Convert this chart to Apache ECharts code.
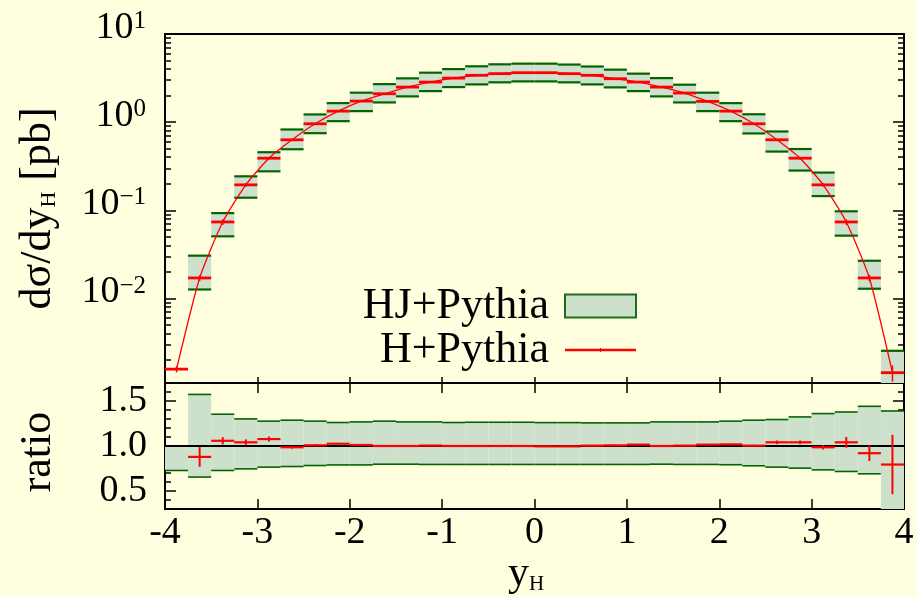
<!DOCTYPE html>
<html>
<head>
<meta charset="utf-8">
<script src="https://cdn.jsdelivr.net/npm/echarts@6/dist/echarts.min.js"></script>
<style>
  html, body { margin: 0; padding: 0; background: #ffffe0; }
  #chart { width: 917px; height: 597px; }
</style>
</head>
<body>
<div id="chart"></div>
<script>
// bin edges in y_H
var binEdges = [-4, -3.75, -3.5, -3.25, -3, -2.75, -2.5, -2.25, -2, -1.75, -1.5, -1.25, -1, -0.75, -0.5, -0.25,
  0, 0.25, 0.5, 0.75, 1, 1.25, 1.5, 1.75, 2, 2.25, 2.5, 2.75, 3, 3.25, 3.5, 3.75, 4];

// H+Pythia, dsigma/dy [pb]
var hPythia = [0.00158, 0.0171, 0.0738, 0.1945, 0.39, 0.631, 0.959, 1.334, 1.733, 2.10, 2.50, 2.85, 3.16, 3.40, 3.55, 3.64,
  3.64, 3.55, 3.40, 3.11, 2.85, 2.50, 2.14, 1.72, 1.334, 0.959, 0.631, 0.39, 0.1945, 0.0738, 0.0171, 0.00144];
var hPythiaErr = [0.00013, 0.0013, 0.0055, 0.009, 0.012, 0.015, 0.018, 0.02, 0.022, 0.022, 0.022, 0.022, 0.022, 0.022, 0.022, 0.022,
  0.022, 0.022, 0.022, 0.022, 0.022, 0.022, 0.022, 0.022, 0.02, 0.018, 0.015, 0.012, 0.009, 0.0055, 0.0014, 0.0003];

// HJ+Pythia uncertainty band
var hjLow = [null, 0.01265, 0.0507, 0.139, 0.277, 0.493, 0.75, 1.026, 1.334, 1.674, 1.96, 2.25, 2.50, 2.68, 2.83, 2.90,
  2.90, 2.83, 2.68, 2.48, 2.25, 1.96, 1.674, 1.334, 1.026, 0.745, 0.464, 0.2825, 0.145, 0.0516, 0.0129, 0.0008];
var hjHigh = [null, 0.0306, 0.093, 0.243, 0.456, 0.826, 1.223, 1.644, 2.16, 2.70, 3.14, 3.64, 4.0, 4.30, 4.53, 4.61,
  4.61, 4.50, 4.28, 3.94, 3.55, 3.16, 2.66, 2.16, 1.644, 1.229, 0.784, 0.496, 0.268, 0.0975, 0.0268, 0.00255];

// ratio panel
var ratioLow = [0.728, 0.655, 0.728, 0.746, 0.765, 0.772, 0.783, 0.79, 0.79, 0.798, 0.798, 0.795, 0.795, 0.795, 0.795, 0.795,
  0.795, 0.795, 0.795, 0.795, 0.795, 0.798, 0.795, 0.795, 0.792, 0.78, 0.765, 0.754, 0.735, 0.717, 0.691, 0.2];
var ratioHigh = [1.0, 1.573, 1.353, 1.301, 1.276, 1.287, 1.276, 1.261, 1.268, 1.276, 1.268, 1.268, 1.261, 1.264, 1.264, 1.264,
  1.26, 1.26, 1.257, 1.257, 1.257, 1.268, 1.268, 1.268, 1.276, 1.287, 1.294, 1.323, 1.36, 1.378, 1.441, 1.389];
var ratioH = [null, 0.879, 1.058, 1.041, 1.077, 0.986, 1.008, 1.025, 1.011, 1.0, 1.0, 1.005, 1.0, 1.0, 1.0, 1.0,
  0.996, 0.996, 1.004, 1.007, 1.015, 1.0, 1.004, 1.015, 1.018, 1.004, 1.041, 1.041, 0.986, 1.041, 0.92, 0.794];
var ratioHErr = [null, 0.11, 0.04, 0.033, 0.028, 0.015, 0.012, 0.01, 0.01, 0.008, 0.008, 0.008, 0.008, 0.008, 0.008, 0.008,
  0.008, 0.008, 0.008, 0.008, 0.008, 0.008, 0.008, 0.008, 0.01, 0.01, 0.02, 0.02, 0.024, 0.06, 0.087, 0.33];

// tick values
var logMajorTicks = [0.01, 0.1, 1, 10];
var logMinorTicks = [0.002, 0.003, 0.004, 0.005, 0.006, 0.007, 0.008, 0.009,
  0.02, 0.03, 0.04, 0.05, 0.06, 0.07, 0.08, 0.09,
  0.2, 0.3, 0.4, 0.5, 0.6, 0.7, 0.8, 0.9,
  2, 3, 4, 5, 6, 7, 8, 9];
var ratioMajorTicks = [0.5, 1.0, 1.5];
var ratioMinorTicks = [0.3, 0.4, 0.5, 0.6, 0.7, 0.8, 0.9, 1.0, 1.1, 1.2, 1.3, 1.4, 1.5, 1.6, 1.7];

var FONT = "'Liberation Serif', 'DejaVu Serif', serif";
var FILL = '#cde0cc';
var DKGREEN = '#006400';
var RED = '#ff0000';

var chart = echarts.init(document.getElementById('chart'));

function rows(a, b) {
  return binEdges.slice(0, -1).map(function (e, i) {
    return [e, binEdges[i + 1], a[i] == null ? NaN : a[i], b[i] == null ? NaN : b[i]];
  });
}

function boxRender(edgeWidth) {
  return function (params, api) {
    var x0 = api.value(0), x1 = api.value(1), lo = api.value(2), hi = api.value(3);
    if (isNaN(lo) || isNaN(hi)) return null;
    var a = api.coord([x0, hi]), b = api.coord([x1, lo]);
    var cs = params.coordSys;
    var children = [];
    var r = echarts.graphic.clipRectByRect(
      { x: a[0], y: a[1], width: b[0] - a[0], height: b[1] - a[1] },
      { x: cs.x, y: cs.y, width: cs.width, height: cs.height });
    if (r) children.push({ type: 'rect', shape: r, style: { fill: FILL } });
    [a[1], b[1]].forEach(function (y) {
      if (y >= cs.y - 1 && y <= cs.y + cs.height + 1) {
        children.push({ type: 'line', shape: { x1: a[0], y1: y, x2: b[0], y2: y },
          style: { stroke: DKGREEN, lineWidth: edgeWidth } });
      }
    });
    return { type: 'group', children: children };
  };
}

function crossRender(hw, vw) {
  return function (params, api) {
    var x0 = api.value(0), x1 = api.value(1), v = api.value(2), e = api.value(3);
    if (isNaN(v)) return null;
    var xc = (x0 + x1) / 2;
    var l = api.coord([x0, v]), r = api.coord([x1, v]);
    var t = api.coord([xc, v + e]), b = api.coord([xc, v - e]);
    var cs = params.coordSys;
    var top = Math.max(t[1], cs.y), bot = Math.min(b[1], cs.y + cs.height);
    return { type: 'group', children: [
      { type: 'line', shape: { x1: l[0], y1: l[1], x2: r[0], y2: r[1] }, style: { stroke: RED, lineWidth: hw } },
      { type: 'line', shape: { x1: t[0], y1: top, x2: b[0], y2: bot }, style: { stroke: RED, lineWidth: vw } }
    ] };
  };
}

var centers = binEdges.slice(0, -1).map(function (e, i) { return [(e + binEdges[i + 1]) / 2, hPythia[i]]; });

function xAx(grid, pos, len, labels) {
  return {
    type: 'value', gridIndex: grid, position: pos, min: -4, max: 4, interval: 1,
    axisLine: { show: false, onZero: false }, splitLine: { show: false },
    axisTick: { show: true, inside: true, length: len, lineStyle: { color: '#000', width: 1.5 } },
    axisLabel: labels ? { show: true, margin: 5, fontFamily: FONT, fontSize: 38, color: '#000',
      formatter: function (v) { return String(v); } } : { show: false }
  };
}

function yAx(grid, pos, type, min, max, ticks, len, extra) {
  var ax = {
    type: type, gridIndex: grid, position: pos, min: min, max: max,
    axisLine: { show: false, onZero: false }, splitLine: { show: false },
    axisTick: { show: true, inside: true, length: len, customValues: ticks, lineStyle: { color: '#000', width: 1.5 } },
    axisLabel: { show: false }
  };
  if (type === 'log') ax.logBase = 10;
  return Object.assign(ax, extra || {});
}

var logLabel = {
  show: true, margin: 19, customValues: logMajorTicks, padding: [0, 0, 12, 0],
  formatter: function (v) {
    var e = Math.round(Math.log10(v));
    return '{b|10}{s|' + (e < 0 ? '\u2212' + (-e) : e) + '}';
  },
  rich: {
    b: { fontFamily: FONT, fontSize: 38, color: '#000' },
    s: { fontFamily: FONT, fontSize: 25, color: '#000', verticalAlign: 'top' }
  }
};

// red line with a small tick in the middle; corner dots keep the 71x23 box
var lineIcon = 'path://M0,0h0.01v0.01h-0.01z M71,23h0.01v0.01h-0.01z M0,10.3H71V12.7H0z M35,9.5h1v4h-1z';

var option = {
  backgroundColor: '#ffffe0',
  animation: false,
  grid: [
    { left: 165, top: 34, width: 739, height: 349, show: true, borderColor: '#000', borderWidth: 2, backgroundColor: 'transparent' },
    { left: 165, top: 383, width: 739, height: 126, show: true, borderColor: '#000', borderWidth: 2, backgroundColor: 'transparent' }
  ],
  xAxis: [
    xAx(0, 'bottom', 6, false),
    Object.assign(xAx(1, 'bottom', 10, true), {
      name: '{t|y}{s|H}', nameLocation: 'middle', nameGap: 39,
      nameTextStyle: { padding: [0, 17, 0, 0], rich: {
        t: { fontFamily: FONT, fontSize: 42, color: '#000' },
        s: { fontFamily: FONT, fontSize: 21, color: '#000', verticalAlign: 'bottom' } } }
    }),
    xAx(1, 'top', 10, false)
  ],
  yAxis: [
    yAx(0, 'left', 'log', 0.0011, 10, logMajorTicks, 11, {
      axisLabel: logLabel,
      name: '{t|d\u03c3/dy}{s|H}{t| [pb]}', nameLocation: 'middle', nameGap: 105,
      nameTextStyle: { rich: {
        t: { fontFamily: FONT, fontSize: 44, color: '#000' },
        s: { fontFamily: FONT, fontSize: 22, color: '#000', verticalAlign: 'bottom' } } }
    }),
    yAx(0, 'left', 'log', 0.0011, 10, logMinorTicks, 6),
    yAx(0, 'right', 'log', 0.0011, 10, logMajorTicks, 11),
    yAx(0, 'right', 'log', 0.0011, 10, logMinorTicks, 6),
    yAx(1, 'left', 'value', 0.3, 1.7, ratioMajorTicks, 11, {
      axisLabel: { show: true, margin: 18, customValues: ratioMajorTicks, padding: [0, 0, 12, 0],
        fontFamily: FONT, fontSize: 38, color: '#000',
        formatter: function (v) { return v.toFixed(1); } },
      name: 'ratio', nameLocation: 'middle', nameGap: 105,
      nameTextStyle: { fontFamily: FONT, fontSize: 44, color: '#000', padding: [0, 12, 0, 0] }
    }),
    yAx(1, 'left', 'value', 0.3, 1.7, ratioMinorTicks, 6),
    yAx(1, 'right', 'value', 0.3, 1.7, ratioMajorTicks, 11),
    yAx(1, 'right', 'value', 0.3, 1.7, ratioMinorTicks, 6)
  ],
  legend: {
    orient: 'vertical', right: 280, top: 284, align: 'right', padding: 0,
    itemWidth: 71, itemHeight: 23, itemGap: 0,
    textStyle: { fontFamily: FONT, fontSize: 44, lineHeight: 43, color: '#000', padding: [0, 11, 0, 0] },
    data: [
      { name: 'HJ+Pythia', icon: 'rect', itemStyle: { color: FILL, borderColor: '#1c6e1c', borderWidth: 2 } },
      { name: 'H+Pythia', icon: lineIcon, itemStyle: { color: RED, borderWidth: 0 } }
    ]
  },
  series: [
    { name: 'HJ+Pythia', type: 'custom', xAxisIndex: 0, yAxisIndex: 0, renderItem: boxRender(2.2),
      data: rows(hjLow, hjHigh), z: 1, itemStyle: { color: FILL } },
    { name: 'H+Pythia', type: 'line', xAxisIndex: 0, yAxisIndex: 0, data: centers, smooth: 0.2,
      symbol: 'none', lineStyle: { color: RED, width: 1.3 }, itemStyle: { color: RED }, z: 3 },
    { name: 'H errors', type: 'custom', xAxisIndex: 0, yAxisIndex: 0, renderItem: crossRender(2.8, 1.5),
      data: rows(hPythia, hPythiaErr), z: 4 },
    { name: 'ratio band', type: 'custom', xAxisIndex: 1, yAxisIndex: 4, renderItem: boxRender(1.6),
      data: rows(ratioLow, ratioHigh), z: 1 },
    { name: 'unity', type: 'line', xAxisIndex: 1, yAxisIndex: 4, data: [[-4, 1], [4, 1]],
      symbol: 'none', lineStyle: { color: '#000', width: 2 }, z: 2, silent: true },
    { name: 'ratio H', type: 'custom', xAxisIndex: 1, yAxisIndex: 4, renderItem: crossRender(2.2, 2),
      data: rows(ratioH, ratioHErr), z: 4 }
  ]
};

chart.setOption(option);
</script>
</body>
</html>
